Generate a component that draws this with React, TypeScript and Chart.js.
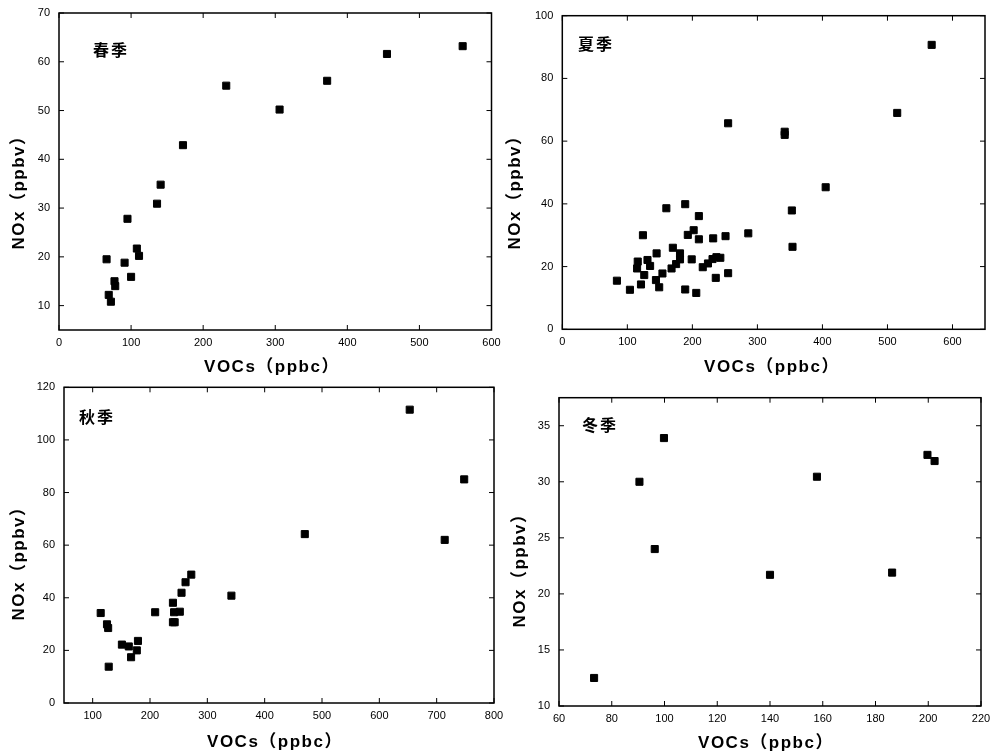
import React, { useEffect, useRef } from "react";
import { Chart, registerables } from "chart.js";
Chart.register(...registerables);

const PAGE_W = 991;
const PAGE_H = 754;

// ---------- data ----------
const springVOCs = [66, 69, 72, 77, 78, 91, 95, 100, 108, 111, 136, 141, 172, 232, 306, 372, 455, 560];
const springNOx = [19.5, 12.2, 10.8, 15.0, 14.0, 18.8, 27.8, 15.9, 21.7, 20.2, 30.9, 34.8, 42.9, 55.1, 50.2, 56.1, 61.6, 63.2];

const summerVOCs = [84, 104, 121, 124, 116, 115, 126, 131, 135, 145, 144, 149, 154, 160, 170, 168, 175, 181, 181, 189, 189, 193, 202, 210, 210, 199, 206, 216, 224, 232, 231, 236, 237, 243, 251, 255, 286, 255, 342, 342, 515, 568, 405, 353, 354];
const summerNOx = [15.5, 12.6, 14.3, 30.0, 21.6, 19.4, 17.3, 22.1, 20.2, 24.2, 15.7, 13.4, 17.8, 38.6, 26.0, 19.4, 20.8, 24.2, 22.3, 39.9, 12.7, 30.1, 31.6, 36.1, 28.7, 22.3, 11.6, 19.8, 21.0, 29.0, 22.4, 16.4, 23.0, 22.8, 29.7, 17.9, 30.6, 65.7, 63.0, 62.0, 69.0, 90.7, 45.3, 37.9, 26.3];

const autumnVOCs = [114, 125, 127, 128, 151, 163, 179, 177, 167, 209, 240, 243, 242, 252, 240, 255, 262, 272, 342, 470, 653, 714, 748];
const autumnNOx = [34.2, 29.9, 28.5, 13.8, 22.2, 21.5, 23.6, 20.0, 17.4, 34.5, 30.7, 30.7, 34.5, 34.7, 38.1, 41.9, 45.9, 48.8, 40.8, 64.2, 111.5, 62.0, 85.0];

const winterVOCs = [73.3, 90.5, 96.3, 99.8, 140.0, 157.8, 186.3, 199.7, 202.4];
const winterNOx = [12.5, 30.0, 24.0, 33.9, 21.7, 30.45, 21.9, 32.4, 31.85];

const springXTicks = [0, 100, 200, 300, 400, 500, 600];
const springYTicks = [10, 20, 30, 40, 50, 60, 70];
const summerXTicks = [0, 100, 200, 300, 400, 500, 600];
const summerYTicks = [0, 20, 40, 60, 80, 100];
const autumnXTicks = [100, 200, 300, 400, 500, 600, 700, 800];
const autumnYTicks = [0, 20, 40, 60, 80, 100, 120];
const winterXTicks = [60, 80, 100, 120, 140, 160, 180, 200, 220];
const winterYTicks = [10, 15, 20, 25, 30, 35];

const seasonNames = ["春季", "夏季", "秋季", "冬季"];
const xTitle = "VOCs（ppbc）";
const yTitle = "NOx（ppbv）";

// ---------- layout (pixels in page) ----------
type Panel = {
  season: string;
  xs: number[];
  ys: number[];
  xTicks: number[];
  yTicks: number[];
  xMin: number; xMax: number; yMin: number; yMax: number;
  area: { l: number; r: number; t: number; b: number };
  xTitlePos: [number, number];
  yTitlePos: [number, number];
  seasonPos: [number, number];
};

const panels: Panel[] = [
  {
    season: seasonNames[0], xs: springVOCs, ys: springNOx, xTicks: springXTicks, yTicks: springYTicks,
    xMin: 0, xMax: 600, yMin: 5, yMax: 70,
    area: { l: 59, r: 491.5, t: 13, b: 330 },
    xTitlePos: [272, 367], yTitlePos: [19, 188], seasonPos: [93, 50],
  },
  {
    season: seasonNames[1], xs: summerVOCs, ys: summerNOx, xTicks: summerXTicks, yTicks: summerYTicks,
    xMin: 0, xMax: 650, yMin: 0, yMax: 100,
    area: { l: 562.3, r: 989, t: 15.7, b: 329.3 },
    xTitlePos: [772, 367], yTitlePos: [515, 188], seasonPos: [578, 44],
  },
  {
    season: seasonNames[2], xs: autumnVOCs, ys: autumnNOx, xTicks: autumnXTicks, yTicks: autumnYTicks,
    xMin: 50, xMax: 800, yMin: 0, yMax: 120,
    area: { l: 64, r: 494, t: 387.3, b: 703 },
    xTitlePos: [275, 742], yTitlePos: [19, 559], seasonPos: [79, 417],
  },
  {
    season: seasonNames[3], xs: winterVOCs, ys: winterNOx, xTicks: winterXTicks, yTicks: winterYTicks,
    xMin: 60, xMax: 220, yMin: 10, yMax: 37.5,
    area: { l: 559, r: 981, t: 397.7, b: 706 },
    xTitlePos: [766, 743], yTitlePos: [520, 566], seasonPos: [582, 425],
  },
];

const X_AXIS_H = 20;
const Y_AXIS_W = 30;

const decorPlugin = {
  id: "panelDecor",
  afterDraw(chart: any, _args: any, opts: any) {
    const p: Panel = opts.panel;
    if (!p) return;
    const { ctx, chartArea: a, scales } = chart;
    const xs = scales.x;
    const ys = scales.y;
    ctx.save();
    ctx.strokeStyle = "#000";
    ctx.lineWidth = 1.5;
    ctx.strokeRect(a.left, a.top, a.right - a.left, a.bottom - a.top);
    ctx.lineWidth = 1;
    ctx.beginPath();
    xs.ticks.forEach((t: any) => {
      const px = xs.getPixelForValue(t.value);
      ctx.moveTo(px, a.bottom);
      ctx.lineTo(px, a.bottom - 5);
      ctx.moveTo(px, a.top);
      ctx.lineTo(px, a.top + 5);
    });
    ys.ticks.forEach((t: any) => {
      const py = ys.getPixelForValue(t.value);
      ctx.moveTo(a.left, py);
      ctx.lineTo(a.left + 5, py);
      ctx.moveTo(a.right, py);
      ctx.lineTo(a.right - 5, py);
    });
    ctx.stroke();

    ctx.fillStyle = "#000";
    ctx.textBaseline = "middle";
    // season label
    ctx.font = 'bold 16px "Noto Sans CJK SC"';
    (ctx as any).letterSpacing = "2px";
    ctx.textAlign = "left";
    ctx.fillText(p.season, p.seasonPos[0], p.seasonPos[1]);
    // x title
    ctx.font = 'bold 17px "Liberation Sans", "Noto Sans CJK SC"';
    (ctx as any).letterSpacing = "1.5px";
    ctx.textAlign = "center";
    ctx.fillText(xTitle, p.xTitlePos[0], p.xTitlePos[1]);
    // y title
    ctx.translate(p.yTitlePos[0], p.yTitlePos[1]);
    ctx.rotate(-Math.PI / 2);
    ctx.fillText(yTitle, 0, 0);
    ctx.restore();
  },
};

function PanelChart({ panel }: { panel: Panel }) {
  const ref = useRef<HTMLCanvasElement | null>(null);
  useEffect(() => {
    if (!ref.current) return;
    const a = panel.area;
    const tickFont = { family: '"Liberation Sans", Arial, sans-serif', size: 11, lineHeight: 1 };
    const chart = new Chart(ref.current, {
      type: "scatter",
      data: {
        datasets: [
          {
            data: panel.xs.map((x, i) => ({ x, y: panel.ys[i] })),
            pointStyle: "rect",
            pointRadius: 5,
            pointHoverRadius: 5,
            backgroundColor: "#000",
            borderColor: "#000",
            borderWidth: 1,
            showLine: false,
          },
        ],
      },
      options: {
        animation: false,
        responsive: false,
        devicePixelRatio: 1,
        events: [],
        layout: {
          padding: {
            left: a.l - Y_AXIS_W,
            right: PAGE_W - a.r,
            top: a.t,
            bottom: PAGE_H - a.b - X_AXIS_H,
          },
        },
        plugins: {
          legend: { display: false },
          tooltip: { enabled: false },
          panelDecor: { panel },
        } as any,
        scales: {
          x: {
            type: "linear",
            min: panel.xMin,
            max: panel.xMax,
            afterBuildTicks: (s: any) => {
              s.ticks = panel.xTicks.map((v) => ({ value: v }));
            },
            afterFit: (s: any) => {
              s.height = X_AXIS_H;
            },
            ticks: { font: tickFont, color: "#000", padding: 0, autoSkip: false, maxRotation: 0, minRotation: 0 },
            grid: { drawOnChartArea: false, drawTicks: true, tickLength: 7, tickColor: "rgba(0,0,0,0)" },
            border: { display: false },
          },
          y: {
            type: "linear",
            min: panel.yMin,
            max: panel.yMax,
            afterBuildTicks: (s: any) => {
              s.ticks = panel.yTicks.map((v) => ({ value: v }));
            },
            afterFit: (s: any) => {
              s.width = Y_AXIS_W;
            },
            ticks: { font: tickFont, color: "#000", padding: 0, autoSkip: false },
            grid: { drawOnChartArea: false, drawTicks: true, tickLength: 9, tickColor: "rgba(0,0,0,0)" },
            border: { display: false },
          },
        },
      },
      plugins: [decorPlugin],
    } as any);
    return () => chart.destroy();
  }, [panel]);
  return (
    <canvas
      ref={ref}
      width={PAGE_W}
      height={PAGE_H}
      style={{ position: "absolute", left: 0, top: 0, width: PAGE_W, height: PAGE_H }}
    />
  );
}

export default function App() {
  return (
    <div
      style={{
        position: "fixed",
        left: 0,
        top: 0,
        width: PAGE_W,
        height: PAGE_H,
        overflow: "hidden",
        background: "#fff",
      }}
    >
      {panels.map((p, i) => (
        <PanelChart key={i} panel={p} />
      ))}
    </div>
  );
}
